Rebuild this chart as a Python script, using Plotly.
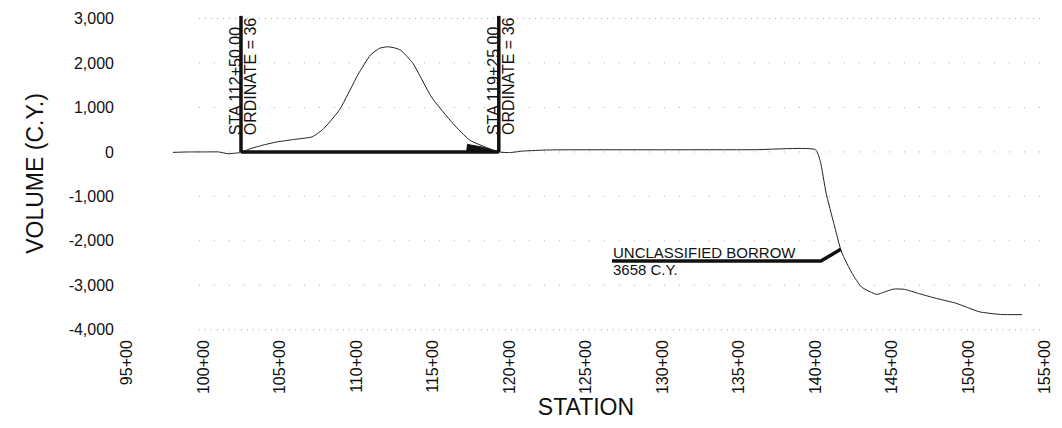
import plotly.graph_objects as go

# mass haul curve, station (x100 ft) vs cumulative volume (C.Y.)
station = [98.0, 99.0, 100.0, 101.0, 101.6, 102.0, 102.4, 103.0, 103.9, 104.8,
           105.9, 107.1, 107.8, 108.9, 110.1, 110.9, 111.5, 112.0, 112.5, 112.9,
           113.7, 114.9, 116.3, 117.4, 118.5, 119.3, 120.0, 120.9, 122.6, 130.0,
           136.0, 140.0, 140.3, 140.7, 141.2, 141.7, 142.4, 143.0, 144.0, 144.5,
           145.1, 145.8, 146.8, 147.9, 149.2, 150.7, 152.1, 153.5]
volume = [-10, 0, 0, 0, -40, -30, -15, 65, 155, 225,
          280, 340, 505, 955, 1740, 2175, 2330, 2365, 2340, 2285,
          1985, 1235, 640, 265, 100, 0, -15, 20, 45, 48,
          50, 50, -190, -935, -1610, -2250, -2735, -3035, -3205, -3150,
          -3085, -3090, -3190, -3295, -3405, -3595, -3655, -3660]

# balance line between the two stations
balance_sta = [102.45, 119.3]
balance_top = 3060
balance_labels = [("STA 112+50.00", "ORDINATE = 36"), ("STA 119+25.00", "ORDINATE = 36")]

# small filled wedge near the right balance point
wedge_x = [117.2, 117.25, 118.2, 119.3, 117.2]
wedge_y = [0, 170, 110, 0, 0]

# borrow leader
borrow_x = [126.7, 140.35, 141.65]
borrow_y = [-2455, -2455, -2190]
borrow_text = ["UNCLASSIFIED BORROW", "3658 C.Y."]

x_ticks = list(range(95, 160, 5))
x_ticktext = [f"{v}+00" for v in x_ticks]
y_ticks = [3000, 2000, 1000, 0, -1000, -2000, -3000, -4000]
y_ticktext = ["3,000", "2,000", "1,000", "0", "-1,000", "-2,000", "-3,000", "-4,000"]

FONT = "Liberation Sans, Arial, sans-serif"
INK = "#111111"

fig = go.Figure()

# faint dotted gridlines
for yv in y_ticks:
    dense = yv in (3000, -4000)
    fig.add_shape(type="line", xref="x", yref="y", x0=99.7, x1=155.2, y0=yv, y1=yv,
                  line=dict(color="#a8a8a8", width=1, dash="1px,5px" if dense else "1px,14px"),
                  layer="below")

fig.add_trace(go.Scatter(x=station, y=volume, mode="lines",
                         line=dict(color="#222222", width=1, shape="spline", smoothing=0.5),
                         hoverinfo="skip"))

fig.add_trace(go.Scatter(x=wedge_x, y=wedge_y, mode="lines", fill="toself",
                         fillcolor="#111111", line=dict(color="#111111", width=1)))

fig.add_trace(go.Scatter(x=balance_sta, y=[0, 0], mode="lines",
                         line=dict(color="#111111", width=3.5)))
for s in balance_sta:
    fig.add_trace(go.Scatter(x=[s, s], y=[0, balance_top], mode="lines",
                             line=dict(color="#111111", width=3.5)))

fig.add_trace(go.Scatter(x=borrow_x, y=borrow_y, mode="lines",
                         line=dict(color="#111111", width=3.5)))

for s, (l1, l2) in zip(balance_sta, balance_labels):
    fig.add_annotation(x=s, y=330, text=l1, textangle=-90, showarrow=False,
                       xanchor="center", yanchor="bottom", xshift=-6,
                       font=dict(family=FONT, size=16, color=INK))
    fig.add_annotation(x=s, y=330, text=l2, textangle=-90, showarrow=False,
                       xanchor="center", yanchor="bottom", xshift=9,
                       font=dict(family=FONT, size=16, color=INK))

fig.add_annotation(x=borrow_x[0], y=borrow_y[0], text=borrow_text[0], showarrow=False,
                   xanchor="left", yanchor="bottom", borderpad=0, yshift=-1,
                   font=dict(family=FONT, size=15, color=INK))
fig.add_annotation(x=borrow_x[0], y=borrow_y[0], text=borrow_text[1], showarrow=False,
                   xanchor="left", yanchor="top", borderpad=0, yshift=1,
                   font=dict(family=FONT, size=15, color=INK))

fig.update_layout(
    width=1054, height=420,
    margin=dict(l=119, r=17, t=7, b=96),
    paper_bgcolor="white", plot_bgcolor="white",
    showlegend=False,
    font=dict(family=FONT, size=16, color=INK),
)
fig.update_xaxes(range=[95, 155], tickvals=x_ticks, ticktext=x_ticktext, tickangle=-90,
                 showgrid=False, zeroline=False, showline=False, ticks="",
                 tickfont=dict(size=16), ticklabelstandoff=4, automargin=False,
                 title=dict(text="STATION", font=dict(size=23), standoff=2))
fig.update_yaxes(range=[-4050, 3080], tickvals=y_ticks, ticktext=y_ticktext,
                 showgrid=False, zeroline=False, showline=False, ticks="",
                 tickfont=dict(size=16), ticklabelstandoff=12, automargin=False,
                 title=dict(text="VOLUME (C.Y.)", font=dict(size=23), standoff=18))

fig.write_html("out.html")
